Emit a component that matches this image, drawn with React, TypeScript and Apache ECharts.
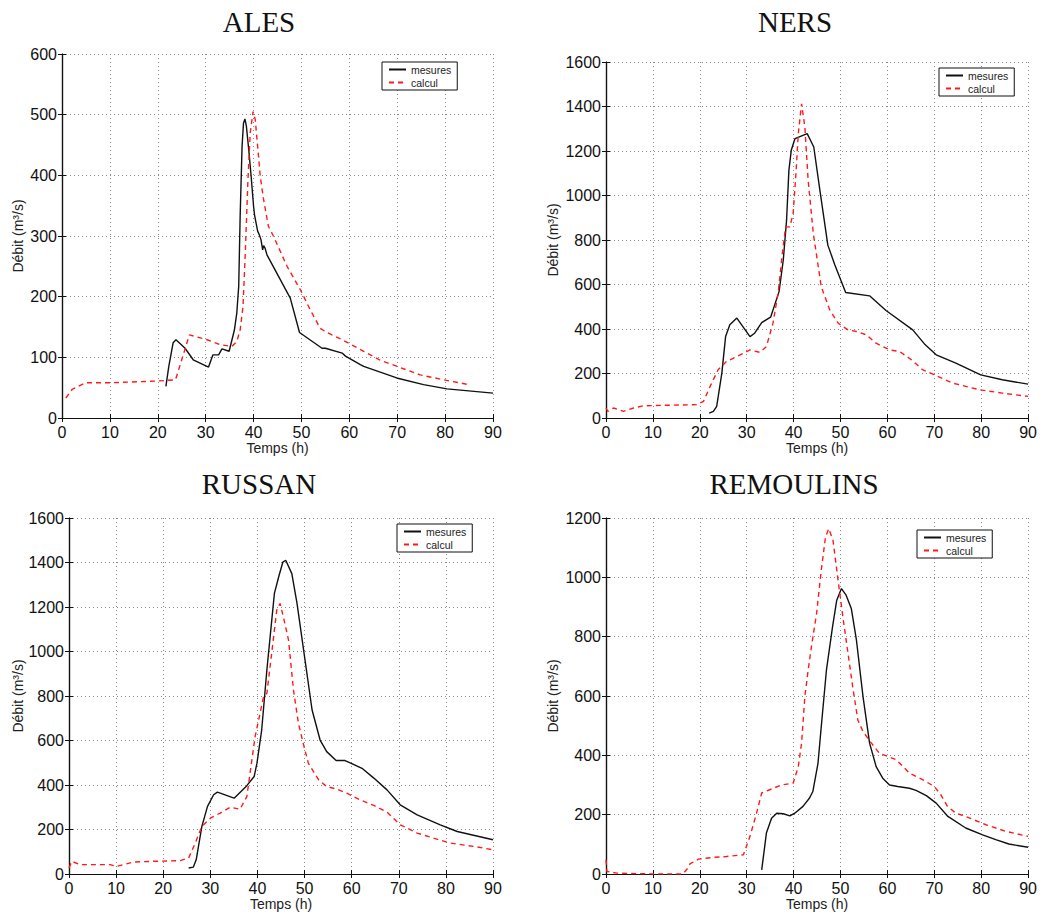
import React, { useEffect, useRef } from "react";
import * as echarts from "echarts";

const stationNames = ["ALES", "NERS", "RUSSAN", "REMOULINS"];
const seriesNames = ["mesures", "calcul"];
const xTicks = [0, 10, 20, 30, 40, 50, 60, 70, 80, 90];
const yMax = [600, 1600, 1600, 1200];
const yStep = [100, 200, 200, 200];

const alesMesures = [[21.7,52],[22.3,85],[23.2,124],[23.8,129],[25.7,115],[27.4,96],[30.6,84],[31.5,104],[32.7,104],[33.4,114],[34.9,110],[36,145],[36.5,173],[36.9,217],[37.2,332],[37.6,448],[37.9,486],[38.2,493],[38.5,481],[39,442],[39.5,398],[40,349],[40.2,335],[40.85,308],[41.2,302],[41.55,294],[41.9,277],[42.1,284],[42.4,280],[42.8,269],[47.3,203],[47.65,198],[49.6,141],[54.3,115],[55,115],[58.5,107],[59.2,102],[62.3,88],[63,85],[69.9,66],[75.5,55],[80.4,48],[90,41]];
const alesCalcul = [[0.8,33],[2.1,47],[4.9,58],[10,58],[20,61],[23.7,63],[25,96],[26.6,137],[30.3,129],[33,121],[35.5,118],[36.5,126],[37.2,145],[37.8,184],[38.3,277],[38.8,387],[39.3,470],[39.9,505],[40.35,492],[40.85,448],[41.4,398],[42.1,360],[43.1,316],[44.2,299],[47,250],[49.8,211],[51.8,179],[53.9,148],[55.3,141],[58.5,129],[63,110],[66.5,95],[70,85],[74.8,71],[79.7,63],[84.9,55]];

const nersMesures = [[22,22],[22.9,30],[23.6,52],[24.7,202],[25.5,366],[26.4,419],[27.9,449],[30.7,366],[31.7,381],[33.2,429],[35.1,453],[36.9,568],[37.8,710],[38.5,889],[39,1114],[39.5,1203],[40.3,1256],[42.9,1278],[44.3,1218],[45.6,1024],[47.3,777],[48.8,688],[51.1,564],[56.2,549],[59.7,483],[65.4,396],[67.9,333],[70.4,284],[74.6,247],[79.9,194],[84.5,172],[90,152]];
const nersCalcul = [[0,45],[0.4,30],[1.6,45],[3.7,30],[5.9,45],[8,55],[19.3,60],[20.8,75],[22.2,142],[23.9,217],[25.7,254],[28.6,284],[30.7,306],[32.8,295],[34.2,321],[35.6,426],[36.7,561],[37.6,740],[38.3,859],[39.2,859],[39.9,919],[40.5,1099],[41,1278],[41.7,1412],[42.4,1308],[43.1,1069],[44.2,830],[45.9,590],[47.7,486],[49.5,426],[51.6,396],[53.4,389],[55.5,374],[57.6,336],[60.5,306],[62.6,299],[65.1,262],[67.5,217],[70,194],[73.9,157],[79.6,127],[84.5,112],[90,97]];

const russanMesures = [[25.4,27],[26.4,31],[27,64],[28.2,214],[29.4,304],[30.7,356],[31.5,368],[35.05,341],[37.7,396],[39.3,438],[39.9,498],[40.9,647],[42,917],[43.6,1261],[44.5,1335],[45.4,1402],[46,1410],[47.3,1350],[48.4,1216],[49.8,1006],[51.6,737],[53.3,602],[54.7,550],[56.7,510],[58.6,510],[62.2,475],[64.7,431],[67.5,378],[70.3,311],[73.9,266],[78.8,221],[82.4,191],[90,154]];
const russanCalcul = [[0,27],[0.6,57],[2.3,42],[6.6,42],[8.7,42],[10.1,34],[13.7,54],[17.9,57],[23.6,60],[25.4,72],[26.8,139],[28.2,214],[30,251],[32.1,274],[34.2,300],[36.3,291],[37.75,348],[39.5,617],[41.3,797],[42,812],[43.1,1006],[44.1,1186],[44.8,1216],[45.5,1156],[46.6,1051],[47.65,827],[48.7,677],[49.9,572],[50.8,498],[53,423],[54.7,393],[56.9,381],[59,363],[61.8,333],[64.7,308],[67.5,278],[70.3,221],[73.9,184],[77.4,161],[80.9,139],[85.9,124],[90,109]];

const remoulinsMesures = [[33.2,14],[34.2,138],[35.3,188],[36.4,205],[37.8,203],[39.2,196],[40.25,205],[42,228],[43.4,256],[44.1,278],[45.2,373],[45.9,497],[47,687],[48.3,833],[49.2,923],[50.2,962],[51.2,940],[52.3,895],[53.4,788],[54.8,598],[56.2,441],[57.6,362],[59,323],[60.45,300],[62.2,295],[64.7,289],[66.1,282],[68.3,264],[70.4,239],[72.9,194],[76.7,155],[80.3,132],[83.1,116],[85.9,101],[90,90]];
const remoulinsCalcul = [[0,48],[0.2,9],[2.3,3],[10.1,0],[16.4,0],[17.2,15],[17.9,34],[19.7,50],[22.9,56],[25.7,59],[29.3,65],[30.7,127],[32.1,205],[33.2,273],[34.9,284],[37.4,300],[39.9,306],[41,362],[41.7,441],[42.4,598],[43.1,687],[43.8,766],[44.9,878],[45.9,1024],[46.8,1136],[47.5,1164],[48.4,1125],[49.3,1013],[50.5,867],[51.6,744],[52.6,631],[53.7,519],[54.8,480],[56.6,441],[58.3,407],[60.1,396],[61.9,385],[64.7,340],[67.5,318],[70,295],[71.4,267],[72.8,228],[74.6,205],[76.7,194],[81,166],[85.2,144],[90,127]];

const mesuresData = [alesMesures, nersMesures, russanMesures, remoulinsMesures];
const calculData = [alesCalcul, nersCalcul, russanCalcul, remoulinsCalcul];

export default function App() {
  const ref = useRef<HTMLDivElement>(null);
  useEffect(() => {
    if (!ref.current) return;
    const chart = echarts.init(ref.current, null, { renderer: "svg" });
    const sans = "'Liberation Sans', Helvetica, Arial, sans-serif";
    const grids = [
      { left: 62, top: 54, width: 431, height: 364 },
      { left: 606, top: 62, width: 423, height: 356 },
      { left: 69, top: 518, width: 424, height: 356 },
      { left: 606, top: 518, width: 423, height: 356 },
    ];
    const yNameGap = [37, 46, 44, 46];
    const titlePos = [
      { left: 254, top: 2 },
      { left: 790, top: 2 },
      { left: 254, top: 464 },
      { left: 789, top: 464 },
    ];
    const legendPos = [
      { left: 382, top: 62 },
      { left: 939, top: 68 },
      { left: 397, top: 524 },
      { left: 917, top: 530 },
    ];
    const lineAxis = { show: true, lineStyle: { color: "#111", width: 1.2 } };
    const tick = { show: true, inside: true, length: 4, lineStyle: { color: "#111" } };
    const fmt = (v: number) => String(v);
    const xAxes: any[] = [];
    const yAxes: any[] = [];
    const series: any[] = [];
    for (let i = 0; i < 4; i++) {
      xAxes.push({
        type: "value", gridIndex: i, min: xTicks[0], max: xTicks[xTicks.length - 1], interval: 10,
        name: "Temps (h)", nameLocation: "middle", nameGap: 22,
        nameTextStyle: { fontFamily: sans, fontSize: 14, color: "#222" },
        axisLine: lineAxis, axisTick: tick,
        axisLabel: { fontFamily: sans, fontSize: 16, color: "#111", margin: 6, formatter: fmt },
        splitLine: { show: true, lineStyle: { color: "#888", type: [1, 3], width: 1 } },
      });
      yAxes.push({
        type: "value", gridIndex: i, min: 0, max: yMax[i], interval: yStep[i],
        name: "Débit (m³/s)", nameLocation: "middle", nameGap: yNameGap[i], nameRotate: 90,
        nameTextStyle: { fontFamily: sans, fontSize: 14, color: "#222" },
        axisLine: lineAxis, axisTick: tick,
        axisLabel: { fontFamily: sans, fontSize: 16, color: "#111", margin: 5, formatter: fmt },
        splitLine: { show: true, lineStyle: { color: "#888", type: [1, 3], width: 1 } },
      });
    }
    for (let i = 0; i < 4; i++) {
      xAxes.push({
        type: "value", gridIndex: i, position: "top", min: 0, max: 90, interval: 10,
        axisLine: lineAxis, axisTick: tick, axisLabel: { show: false }, splitLine: { show: false },
      });
      yAxes.push({
        type: "value", gridIndex: i, position: "right", min: 0, max: yMax[i], interval: yStep[i],
        axisLine: lineAxis, axisTick: tick, axisLabel: { show: false }, splitLine: { show: false },
      });
    }
    for (let i = 0; i < 4; i++) {
      series.push({
        name: seriesNames[0], type: "line", xAxisIndex: i, yAxisIndex: i,
        data: mesuresData[i], symbol: "none", showSymbol: false,
        lineStyle: { color: "#111", width: 1.4, type: "solid" },
        itemStyle: { color: "#111" },
      });
      series.push({
        name: seriesNames[1], type: "line", xAxisIndex: i, yAxisIndex: i,
        data: calculData[i], symbol: "none", showSymbol: false,
        lineStyle: { color: "#ff1a1a", width: 1.4, type: [5, 4] },
        itemStyle: { color: "#ff1a1a" },
      });
    }
    chart.setOption({
      animation: false,
      backgroundColor: "#fff",
      title: stationNames.map((t, i) => ({
        text: t, left: titlePos[i].left, top: titlePos[i].top, textAlign: "center",
        textStyle: { fontFamily: "'Liberation Serif', 'Times New Roman', serif", fontWeight: "normal", fontSize: 29, color: "#111" },
      })),
      legend: legendPos.map((p) => ({
        data: seriesNames, orient: "vertical", left: p.left, top: p.top,
        itemWidth: 17, itemHeight: 10, itemGap: 2, padding: [2, 6, 2, 6],
        borderColor: "#111", borderWidth: 1, backgroundColor: "#fff",
        itemStyle: { opacity: 0, borderWidth: 0 },
        textStyle: { fontFamily: sans, fontSize: 10.5, color: "#222" },
        selectedMode: false,
      })),
      grid: grids.map((g) => ({ ...g, show: false })),
      xAxis: xAxes,
      yAxis: yAxes,
      series,
    });
    return () => chart.dispose();
  }, []);
  return <div ref={ref} style={{ position: "fixed", left: 0, top: 0, width: 1040, height: 914 }} />;
}
